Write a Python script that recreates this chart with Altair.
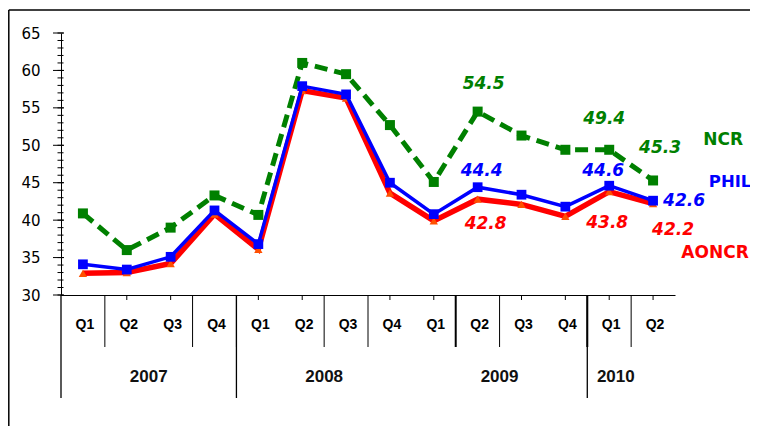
import altair as alt
import pandas as pd

# ---- data ----
quarters = ["Q1", "Q2", "Q3", "Q4", "Q1", "Q2", "Q3", "Q4", "Q1", "Q2", "Q3", "Q4", "Q1", "Q2"]
years = ["2007", "2008", "2009", "2010"]
year_pos = [2, 6, 10, 12.65]          # category-index centre of each year label
ncr = [40.9, 36.0, 39.0, 43.3, 40.7, 61.0, 59.5, 52.7, 45.1, 54.5, 51.3, 49.4, 49.4, 45.3]
phil = [34.1, 33.4, 35.1, 41.3, 36.8, 57.9, 56.8, 45.0, 40.8, 44.4, 43.4, 41.8, 44.6, 42.6]
aoncr = [32.9, 33.0, 34.2, 40.8, 36.1, 57.3, 56.3, 43.6, 39.9, 42.8, 42.1, 40.5, 43.8, 42.2]
y_major = [30, 35, 40, 45, 50, 55, 60, 65]
y_minor = list(range(30, 66))
separators = [1, 3, 4, 6, 7, 9, 10, 12, 13]
thick_separators = [9, 12]
full_separators = [0, 4, 12]
short_tick_idx = [1, 2, 4, 5, 7, 8, 10, 11, 12, 13]

GREEN = "#008000"
BLUE = "#0000FF"
RED = "#FF0000"
W, H = 614, 262

def series_df(vals):
    return pd.DataFrame({"x": [i + 0.5 for i in range(len(vals))], "i": list(range(len(vals))), "v": vals})

d_ncr, d_phil, d_aon = series_df(ncr), series_df(phil), series_df(aoncr)

xs = alt.Scale(domain=[0, 14])
ys = alt.Scale(domain=[30, 65])
x_axis = alt.Axis(labels=False, ticks=False, grid=False, title=None, domainColor="black", domainWidth=1)
y_axis = alt.Axis(values=y_major, grid=False, title=None, ticks=False, domainColor="black", domainWidth=1,
                  labelFontSize=15, labelColor="black", labelPadding=21, labelFont="DejaVu Sans")
X = alt.X("x:Q", scale=xs, axis=x_axis)
Y = alt.Y("v:Q", scale=ys, axis=y_axis)

major_ticks = alt.Chart(pd.DataFrame({"v": y_major})).mark_rule(color="black", strokeWidth=1).encode(
    y=Y, x=alt.value(-8), x2=alt.value(3))
minor_ticks = alt.Chart(pd.DataFrame({"v": y_minor})).mark_rule(color="black", strokeWidth=1).encode(
    y=Y, x=alt.value(-3.5), x2=alt.value(2.5))

thin_seps = [s for s in separators if s not in thick_separators]
sep = alt.Chart(pd.DataFrame({"x": thin_seps})).mark_rule(color="black", strokeWidth=1).encode(
    x=X, y=alt.value(262), y2=alt.value(314))
sep_thick = alt.Chart(pd.DataFrame({"x": thick_separators})).mark_rule(color="black", strokeWidth=2).encode(
    x=X, y=alt.value(262), y2=alt.value(314))
full_sep = alt.Chart(pd.DataFrame({"x": full_separators})).mark_rule(color="black", strokeWidth=1.3).encode(
    x=X, y=alt.value(262), y2=alt.value(365))
short_ticks = alt.Chart(pd.DataFrame({"x": [i + 0.5 for i in short_tick_idx]})).mark_rule(
    color="black", strokeWidth=1).encode(x=X, y=alt.value(262), y2=alt.value(267))

q_labels = alt.Chart(pd.DataFrame({"x": [i + 0.5 for i in range(14)], "q": quarters})).mark_text(
    font="Liberation Sans", fontSize=14, fontWeight="bold", color="black", baseline="middle", dx=2
).encode(x=X, y=alt.value(292), text="q:N")
y_labels = alt.Chart(pd.DataFrame({"x": year_pos, "yr": years})).mark_text(
    font="Liberation Sans", fontSize=17, fontWeight="bold", color="#111111", baseline="middle"
).encode(x=X, y=alt.value(344), text="yr:N")

# frame lines
one = pd.DataFrame({"a": [0]})
frame_top = alt.Chart(one).mark_rule(color="black", strokeWidth=1.5).encode(
    x=alt.value(-52.2), x2=alt.value(720), y=alt.value(-23))
frame_left = alt.Chart(one).mark_rule(color="black", strokeWidth=1.5).encode(
    x=alt.value(-52.2), y=alt.value(-23), y2=alt.value(420))

# series
g_line = alt.Chart(d_ncr).mark_line(color=GREEN, strokeWidth=5, strokeDash=[13, 7]).encode(x=X, y=Y)
g_pts = alt.Chart(d_ncr).mark_point(shape="square", filled=True, color=GREEN, size=100, opacity=1).encode(x=X, y=Y)
r_line = alt.Chart(d_aon).mark_line(color=RED, strokeWidth=5.5).encode(x=X, y=Y)
r_pts = alt.Chart(d_aon).mark_point(shape="triangle-up", filled=True, color="#FF5000", size=70, opacity=1).encode(x=X, y=Y)
b_line = alt.Chart(d_phil).mark_line(color=BLUE, strokeWidth=3.5).encode(x=X, y=Y)
b_pts = alt.Chart(d_phil).mark_point(shape="square", filled=True, color=BLUE, size=95, opacity=1).encode(x=X, y=Y)

# value annotations (series data, index, dx, dy, colour)
annots = [
    (d_ncr, 9, 6, -28, GREEN), (d_ncr, 12, -5, -31, GREEN), (d_ncr, 13, 7, -32, GREEN),
    (d_phil, 9, 4, -16, BLUE), (d_phil, 12, -6, -15, BLUE), (d_phil, 13, 31, 0, BLUE),
    (d_aon, 9, 8, 25, RED), (d_aon, 12, -2, 31, RED), (d_aon, 13, 20, 26, RED),
]
ann_layers = []
for df, idx, dx, dy, col in annots:
    ann_layers.append(
        alt.Chart(df).transform_filter(alt.datum.i == idx).mark_text(
            font="DejaVu Sans", fontSize=17, fontWeight="bold", fontStyle="italic",
            color=col, dx=dx, dy=dy, baseline="middle", align="center"
        ).encode(x=X, y=Y, text=alt.Text("v:Q", format=".1f"))
    )

# series names anchored at the last point
names = [(d_ncr, "NCR", 70, -40, 17, GREEN), (d_phil, "PHIL", 77, -19, 16.5, BLUE),
         (d_aon, "AONCR", 62, 49, 17, RED)]
name_layers = []
for df, nm, dx, dy, fs, col in names:
    name_layers.append(
        alt.Chart(df).transform_filter(alt.datum.i == 13).mark_text(
            font="DejaVu Sans", fontSize=fs, fontWeight="bold", color=col,
            dx=dx, dy=dy, baseline="middle", align="center", text=nm
        ).encode(x=X, y=Y)
    )

chart = alt.layer(
    frame_top, frame_left, minor_ticks, major_ticks,
    sep, sep_thick, full_sep, short_ticks, q_labels, y_labels,
    g_line, g_pts, r_line, r_pts, b_line, b_pts,
    *ann_layers, *name_layers
).properties(
    width=W, height=H,
    autosize=alt.AutoSizeParams(type="none"),
    padding={"left": 53, "top": 25, "right": 75, "bottom": 131},
).configure(font="DejaVu Sans", background="white").configure_view(stroke=None)

chart.save("out.html", embed_options={"renderer": "svg", "actions": False})
